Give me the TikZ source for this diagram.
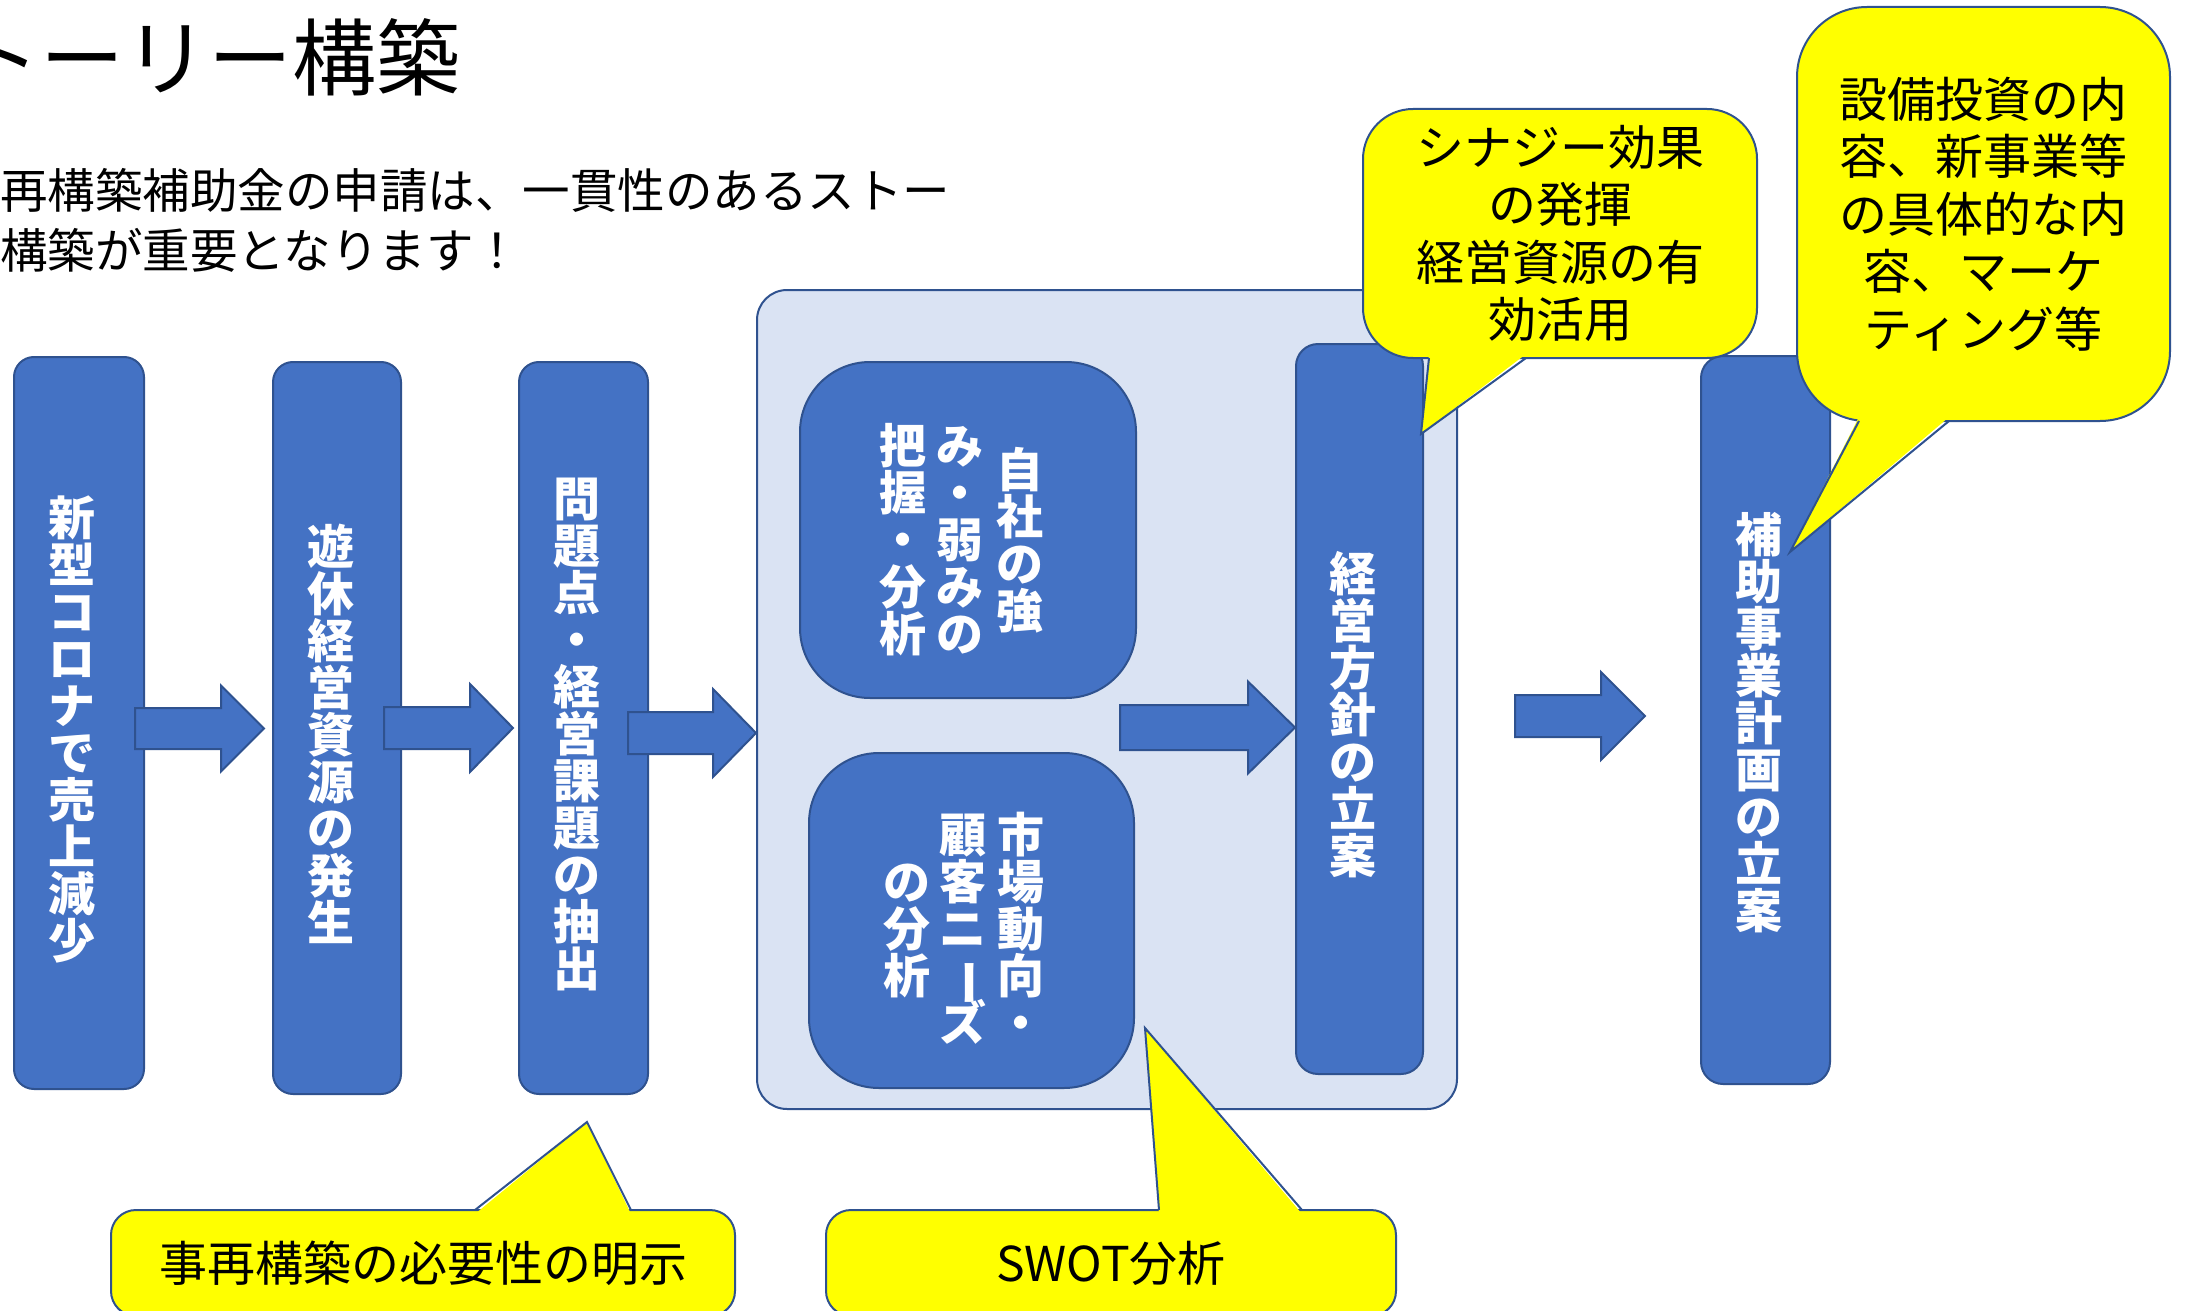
\documentclass[tikz,border=0pt]{standalone}
\usepackage{fontspec}
\setmainfont{Noto Sans CJK JP}
\usepackage{graphicx}
\definecolor{boxblue}{HTML}{4472C4}
\definecolor{edgeblue}{HTML}{2F528F}
\definecolor{paleblue}{HTML}{DAE3F3}
\definecolor{callyellow}{HTML}{FFFF00}
\newcommand\js{\rule[-0.12em]{0pt}{1em}}
\newcommand\vbar{\rotatebox[origin=c]{-90}{ー}}
\newcommand\barrowshape[6]{%
  \draw[barrow] (#1,#4-#5) -- (#2,#4-#5) -- (#2,#4-#6) -- (#3,#4) -- (#2,#4+#6) -- (#2,#4+#5) -- (#1,#4+#5) -- cycle;}
\begin{document}
\lineskiplimit=-1000pt
\begin{tikzpicture}[x=1pt,y=-1pt,
  bluebox/.style={draw=edgeblue, fill=boxblue, line width=2pt, rounded corners=#1, inner sep=0pt},
  palebox/.style={draw=edgeblue, fill=paleblue, line width=2pt, rounded corners=30pt, inner sep=0pt},
  vtext/.style={text=white, inner sep=0pt, align=center, font=\bfseries\fontsize{47}{47}\selectfont},
  callbox/.style={draw=edgeblue, fill=callyellow, line width=2pt, inner sep=0pt, align=center,
    rounded corners=#1, font=\fontsize{48}{57.5}\selectfont},
  ptrfill/.style={fill=callyellow},
  ptrline/.style={draw=edgeblue, line width=2pt},
  barrow/.style={draw=edgeblue, fill=boxblue, line width=2pt}]
\useasboundingbox (0,0) rectangle (2185,1311);
\clip (0,0) rectangle (2185,1311);

% title and lead text
\node[anchor=base west, inner sep=0pt, font=\fontsize{84}{84}\selectfont] (title) at (-128,90) {ストーリー構築};
\node[anchor=base west, inner sep=0pt, font=\fontsize{47.5}{47.5}\selectfont] (sub1) at (-95,208) {事業再構築補助金の申請は、一貫性のあるストー};
\node[anchor=base west, inner sep=0pt, font=\fontsize{47.5}{47.5}\selectfont] (sub2) at (-95,268) {リー構築が重要となります！};

% SWOT container
\node[palebox, minimum width=700pt, minimum height=819pt] (swot) at (1107,699.5) {};

% blue boxes
\node[bluebox=20pt, minimum width=130pt, minimum height=732pt] (b1) at (79,723) {};
\node[bluebox=20pt, minimum width=128pt, minimum height=732pt] (b2) at (337,728) {};
\node[bluebox=20pt, minimum width=129pt, minimum height=732pt] (b3) at (583.5,728) {};
\node[bluebox=70pt, minimum width=336pt, minimum height=336pt] (in1) at (968,530) {};
\node[bluebox=70pt, minimum width=325pt, minimum height=335pt] (in2) at (971.5,920.5) {};
\node[bluebox=22pt, minimum width=127pt, minimum height=730pt] (b4) at (1359.5,709) {};
\node[bluebox=22pt, minimum width=129pt, minimum height=728pt] (b5) at (1765.5,720) {};

% block arrows
\barrowshape{135}{221}{264}{728.5}{20.5}{43}
\barrowshape{384}{470}{513}{728}{21}{44}
\barrowshape{628}{713}{756}{733}{21}{44}
\barrowshape{1120}{1248}{1295}{727.5}{22.5}{46}
\barrowshape{1515}{1601}{1645}{716}{21}{44}

% vertical texts
\node[vtext] (t1) at (72,729) {新\js\\型\js\\コ\js\\ロ\js\\ナ\js\\で\js\\売\js\\上\js\\減\js\\少\js};
\node[vtext] (t2) at (331,735) {遊\js\\休\js\\経\js\\営\js\\資\js\\源\js\\の\js\\発\js\\生\js};
\node[vtext] (t3) at (577,734) {問\js\\題\js\\点\js\\・\js\\経\js\\営\js\\課\js\\題\js\\の\js\\抽\js\\出\js};
\node[vtext] (t4a) at (1020,540) {自\js\\社\js\\の\js\\強\js};
\node[vtext] (t4b) at (960,540) {み\js\\・\js\\弱\js\\み\js\\の\js};
\node[vtext] (t4c) at (903,540) {把\js\\握\js\\・\js\\分\js\\析\js};
\node[vtext] (t5a) at (1021,929) {市\js\\場\js\\動\js\\向\js\\・\js};
\node[vtext] (t5b) at (963,929) {顧\js\\客\js\\ニ\js\\\vbar\js\\ズ\js};
\node[vtext] (t5c) at (907,929) {の\js\\分\js\\析\js};
\node[vtext] (t6) at (1353,715) {経\js\\営\js\\方\js\\針\js\\の\js\\立\js\\案\js};
\node[vtext] (t7) at (1759,723) {補\js\\助\js\\事\js\\業\js\\計\js\\画\js\\の\js\\立\js\\案\js};

% callout: necessity
\node[callbox=25pt, minimum width=624pt, minimum height=106pt] (cA) at (423,1263) {事再構築の必要性の明示\js};
\fill[ptrfill] (475,1214) -- (587,1122) -- (631,1214) -- cycle;
\draw[ptrline] (475,1210) -- (587,1122) -- (631,1210);

% callout: SWOT
\node[callbox=25pt, minimum width=570pt, minimum height=106pt] (cB) at (1111,1263) {SWOT分析\js};
\fill[ptrfill] (1159,1214) -- (1145,1028) -- (1302,1214) -- cycle;
\draw[ptrline] (1159,1210) -- (1145,1028) -- (1302,1210);

% callout: synergy
\node[callbox=50pt, minimum width=394pt, minimum height=249pt] (cC) at (1560,233.5) {シナジー効果\js\\の発揮\js\\経営資源の有\js\\効活用\js};
\fill[ptrfill] (1429,354) -- (1421,434) -- (1526,354) -- cycle;
\draw[ptrline] (1429,358) -- (1421,434) -- (1526,358);

% callout: investment
\node[callbox=70pt, minimum width=373pt, minimum height=414pt] (cD) at (1983.5,214) {設備投資の内\js\\容、新事業等\js\\の具体的な内\js\\容、マーケ\js\\ティング等\js};
\fill[ptrfill] (1859,417) -- (1790,552) -- (1949,417) -- cycle;
\draw[ptrline] (1859,421) -- (1790,552) -- (1949,421);
\end{tikzpicture}
\end{document}
